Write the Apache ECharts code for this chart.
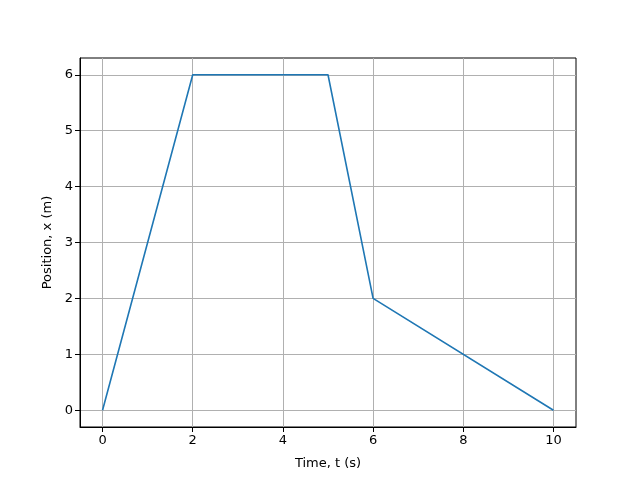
<!DOCTYPE html>
<html><head><meta charset="utf-8">
<script src="https://cdn.jsdelivr.net/npm/echarts@6/dist/echarts.min.js"></script>
<style>html,body{margin:0;padding:0;background:#fff}#c{width:640px;height:480px}</style>
</head><body><div id="c"></div>
<script>
const timeValues = [0, 2, 5, 6, 10];
const positionValues = [0, 6, 6, 2, 0];
const xTicks = [0, 2, 4, 6, 8, 10];
const yTicks = [0, 1, 2, 3, 4, 5, 6];

const chart = echarts.init(document.getElementById('c'), null, {renderer: 'canvas'});
const font = 'DejaVu Sans';
chart.setOption({
  animation: false,
  backgroundColor: '#ffffff',
  grid: {left: 80, right: 64, top: 58, bottom: 53, show: true, borderColor: '#000', borderWidth: 1, containLabel: false},
  xAxis: {
    type: 'value', min: -0.5, max: 10.5,
    name: 'Time, t (s)', nameLocation: 'middle', nameGap: 30,
    nameTextStyle: {fontFamily: font, fontSize: 13, color: '#000'},
    axisLine: {show: true, onZero: false, lineStyle: {color: '#000', width: 1}},
    axisTick: {show: true, inside: false, length: 5, customValues: xTicks, lineStyle: {color: '#000'}},
    axisLabel: {customValues: xTicks, fontFamily: font, fontSize: 13, color: '#000', margin: 7, showMinLabel: true, showMaxLabel: true},
    splitLine: {show: true, lineStyle: {color: '#b0b0b0', width: 1}}
  },
  yAxis: {
    type: 'value', min: -0.3, max: 6.3,
    name: 'Position, x (m)', nameLocation: 'middle', nameGap: 26, nameRotate: 90,
    nameTextStyle: {fontFamily: font, fontSize: 13, color: '#000'},
    axisLine: {show: true, onZero: false, lineStyle: {color: '#000', width: 1}},
    axisTick: {show: true, inside: false, length: 5, customValues: yTicks, lineStyle: {color: '#000'}},
    axisLabel: {customValues: yTicks, fontFamily: font, fontSize: 13, color: '#000', margin: 7},
    splitLine: {show: true, lineStyle: {color: '#b0b0b0', width: 1}}
  },
  series: [{
    type: 'line',
    data: timeValues.map((t, i) => [t, positionValues[i]]),
    showSymbol: false, symbol: 'none',
    lineStyle: {color: '#1f77b4', width: 1.6},
    itemStyle: {color: '#1f77b4'}
  }]
});
</script></body></html>
